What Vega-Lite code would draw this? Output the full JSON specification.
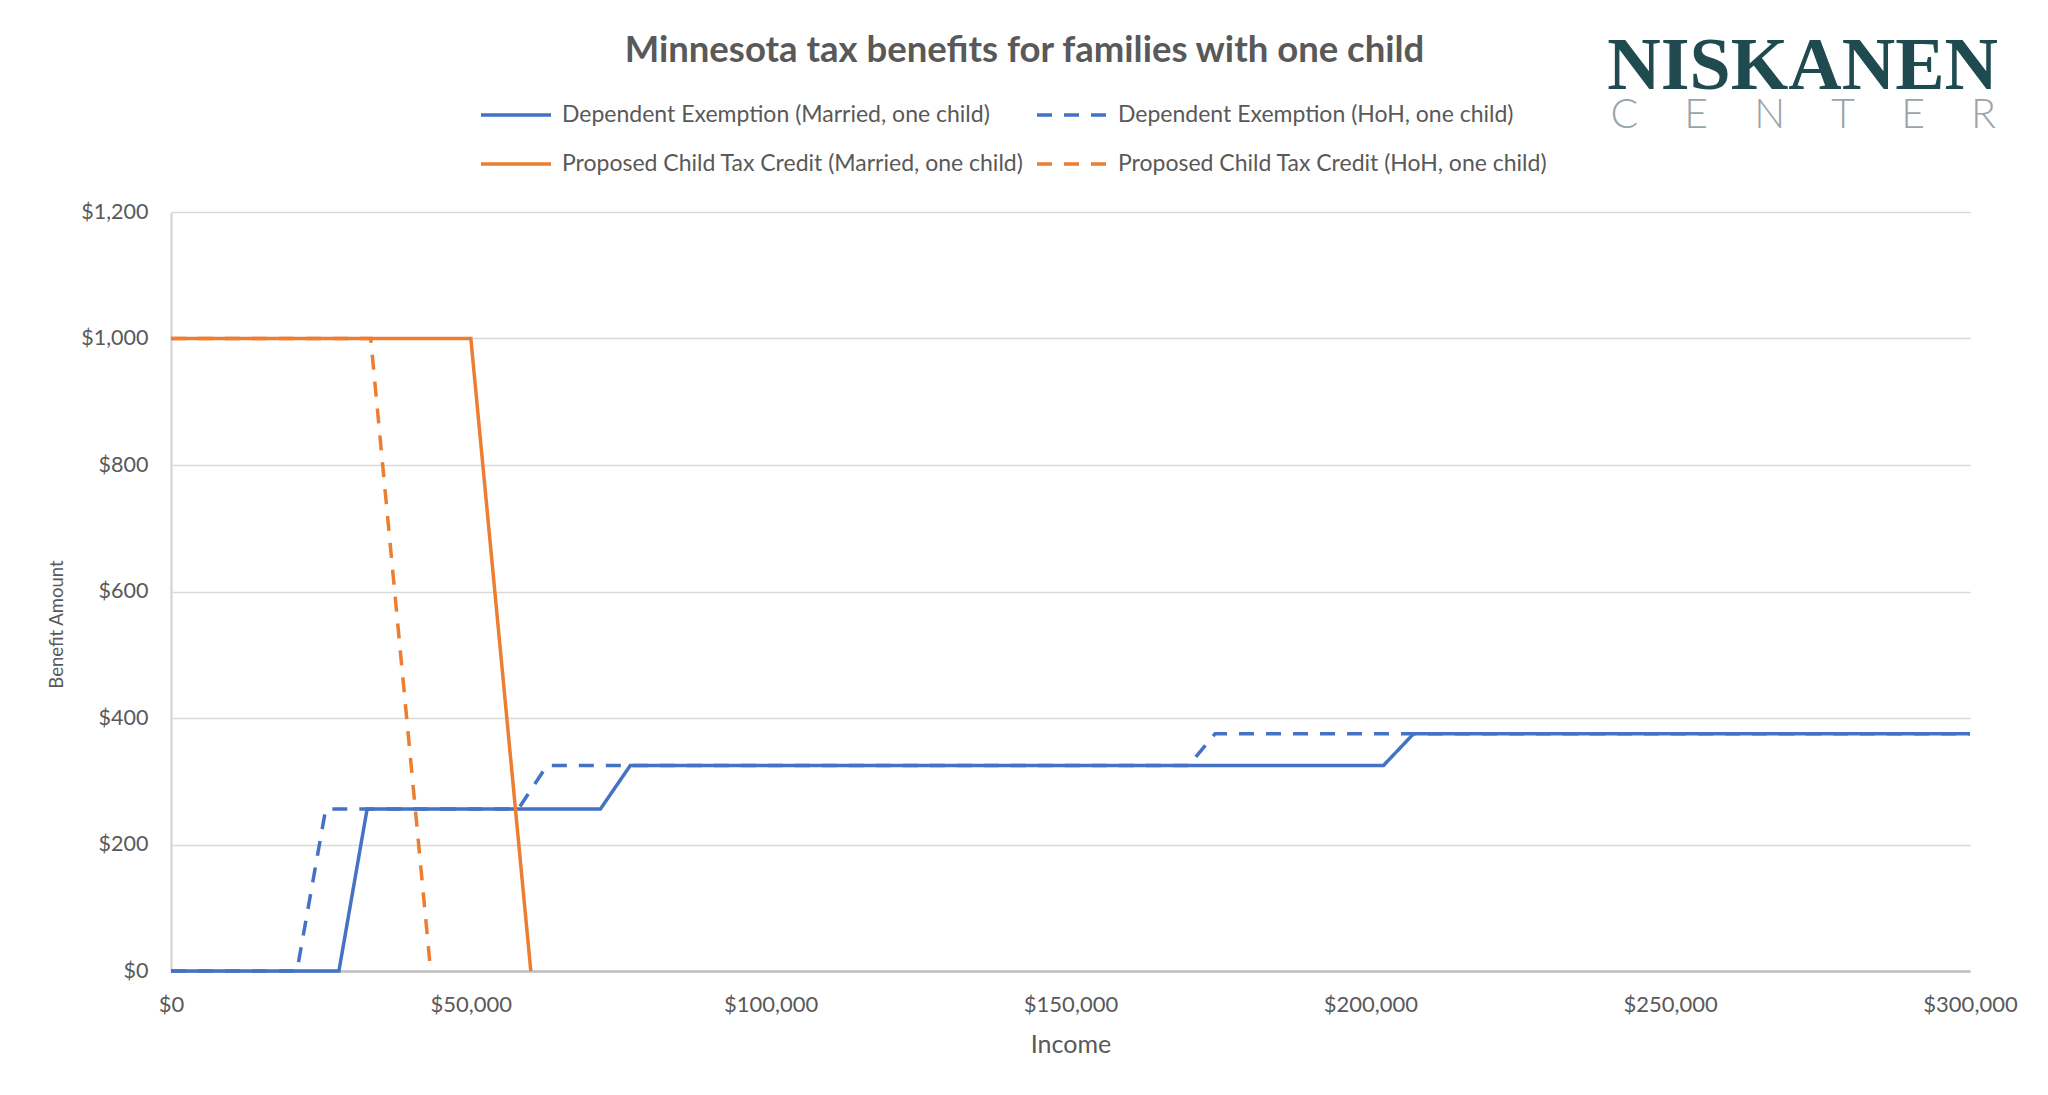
{
  "$schema": "https://vega.github.io/schema/vega-lite/v6.json",
  "width": 1799,
  "height": 759,
  "autosize": {"type": "none"},
  "padding": {"left": 171, "top": 212, "right": 78, "bottom": 124},
  "background": "white",
  "title": {
    "text": "Minnesota tax benefits for families with one child",
    "anchor": "middle",
    "frame": "group",
    "orient": "top",
    "baseline": "alphabetic",
    "dx": -46,
    "offset": -68,
    "font": "Lato",
    "fontSize": 36.5,
    "fontWeight": "bold",
    "color": "#595959"
  },
  "config": {
    "view": {"stroke": null},
    "font": "Lato"
  },
  "layer": [
    {
      "data": {
        "values": [
          {"series": "Dependent Exemption (Married, one child)", "income": 0, "benefit": 0},
          {"series": "Dependent Exemption (Married, one child)", "income": 28000, "benefit": 0},
          {"series": "Dependent Exemption (Married, one child)", "income": 32700, "benefit": 256},
          {"series": "Dependent Exemption (Married, one child)", "income": 71600, "benefit": 256},
          {"series": "Dependent Exemption (Married, one child)", "income": 76600, "benefit": 325},
          {"series": "Dependent Exemption (Married, one child)", "income": 202200, "benefit": 325},
          {"series": "Dependent Exemption (Married, one child)", "income": 207200, "benefit": 375},
          {"series": "Dependent Exemption (Married, one child)", "income": 300000, "benefit": 375},
          {"series": "Dependent Exemption (HoH, one child)", "income": 0, "benefit": 0},
          {"series": "Dependent Exemption (HoH, one child)", "income": 21000, "benefit": 0},
          {"series": "Dependent Exemption (HoH, one child)", "income": 25800, "benefit": 256},
          {"series": "Dependent Exemption (HoH, one child)", "income": 57900, "benefit": 256},
          {"series": "Dependent Exemption (HoH, one child)", "income": 62700, "benefit": 325},
          {"series": "Dependent Exemption (HoH, one child)", "income": 169700, "benefit": 325},
          {"series": "Dependent Exemption (HoH, one child)", "income": 174100, "benefit": 375},
          {"series": "Dependent Exemption (HoH, one child)", "income": 300000, "benefit": 375},
          {"series": "Proposed Child Tax Credit (Married, one child)", "income": 0, "benefit": 1000},
          {"series": "Proposed Child Tax Credit (Married, one child)", "income": 50000, "benefit": 1000},
          {"series": "Proposed Child Tax Credit (Married, one child)", "income": 60000, "benefit": 0},
          {"series": "Proposed Child Tax Credit (HoH, one child)", "income": 0, "benefit": 1000},
          {"series": "Proposed Child Tax Credit (HoH, one child)", "income": 33300, "benefit": 1000},
          {"series": "Proposed Child Tax Credit (HoH, one child)", "income": 43300, "benefit": 0}
        ]
      },
      "mark": {"type": "line", "strokeWidth": 3.5, "clip": false},
      "encoding": {
        "x": {
          "field": "income",
          "type": "quantitative",
          "scale": {"domain": [0, 300000], "nice": false, "zero": true},
          "axis": {
            "title": "Income",
            "values": [0, 50000, 100000, 150000, 200000, 250000, 300000],
            "format": "$,.0f",
            "grid": false,
            "ticks": false,
            "tickSize": 0,
            "labelPadding": 23,
            "labelBaseline": "top",
            "labelFont": "Lato",
            "labelFontSize": 22,
            "labelColor": "#595959",
            "labelFlush": false,
            "labelOverlap": false,
            "domainColor": "#BFBFBF",
            "domainWidth": 2.5,
            "titleFont": "Lato",
            "titleFontSize": 25,
            "titleFontWeight": "normal",
            "titleColor": "#595959",
            "titleX": 899.5,
            "titleY": 73,
            "titleBaseline": "middle",
            "titleAlign": "center"
          }
        },
        "y": {
          "field": "benefit",
          "type": "quantitative",
          "scale": {"domain": [0, 1200], "nice": false},
          "axis": {
            "title": "Benefit Amount",
            "values": [0, 200, 400, 600, 800, 1000, 1200],
            "format": "$,.0f",
            "grid": true,
            "gridColor": "#D9D9D9",
            "gridWidth": 1.5,
            "ticks": false,
            "tickSize": 0,
            "labelPadding": 23,
            "labelFont": "Lato",
            "labelFontSize": 21.5,
            "labelColor": "#595959",
            "domainColor": "#D9D9D9",
            "domainWidth": 2.5,
            "titleFont": "Lato",
            "titleFontSize": 18.5,
            "titleFontWeight": "normal",
            "titleColor": "#595959",
            "titleAngle": 270,
            "titleX": -115,
            "titleY": 412,
            "titleBaseline": "middle",
            "titleAlign": "center"
          }
        },
        "color": {
          "field": "series",
          "type": "nominal",
          "scale": {
            "domain": [
              "Dependent Exemption (Married, one child)",
              "Dependent Exemption (HoH, one child)",
              "Proposed Child Tax Credit (Married, one child)",
              "Proposed Child Tax Credit (HoH, one child)"
            ],
            "range": ["#4472C4", "#4472C4", "#ED7D31", "#ED7D31"]
          },
          "legend": {
            "title": null,
            "orient": "none",
            "legendX": 308,
            "legendY": -134,
            "direction": "horizontal",
            "columns": 2,
            "padding": 0,
            "symbolType": "stroke",
            "symbolSize": 4900,
            "symbolStrokeWidth": 3.5,
            "labelOffset": 9,
            "columnPadding": 6,
            "rowPadding": -24,
            "labelFont": "Lato",
            "labelFontSize": 23,
            "labelColor": "#595959",
            "labelLimit": 800
          }
        },
        "strokeDash": {
          "field": "series",
          "type": "nominal",
          "scale": {
            "domain": [
              "Dependent Exemption (Married, one child)",
              "Dependent Exemption (HoH, one child)",
              "Proposed Child Tax Credit (Married, one child)",
              "Proposed Child Tax Credit (HoH, one child)"
            ],
            "range": [[1, 0], [15, 12], [1, 0], [15, 12]]
          }
        }
      }
    },
    {
      "data": {"values": [{"logo": "NISKANEN"}]},
      "mark": {
        "type": "text",
        "align": "right",
        "baseline": "alphabetic",
        "font": "Liberation Serif",
        "fontWeight": "bold",
        "fontSize": 74,
        "color": "#1F4A50",
        "dx": 28,
        "dy": -123
      },
      "encoding": {
        "text": {"field": "logo"},
        "x": {"datum": 300000},
        "y": {"datum": 1200}
      }
    },
    {
      "data": {"values": [{"logo": "C\u2003\u2005\u2009E\u2003\u2005\u2009N\u2003\u2005\u2009T\u2003\u2005\u2009E\u2003\u2005\u2009R"}]},
      "mark": {
        "type": "text",
        "align": "right",
        "baseline": "alphabetic",
        "font": "Lato",
        "fontWeight": 300,
        "fontSize": 41,
        "color": "#9AA4A8",
        "dx": 26,
        "dy": -84
      },
      "encoding": {
        "text": {"field": "logo"},
        "x": {"datum": 300000},
        "y": {"datum": 1200}
      }
    }
  ]
}
